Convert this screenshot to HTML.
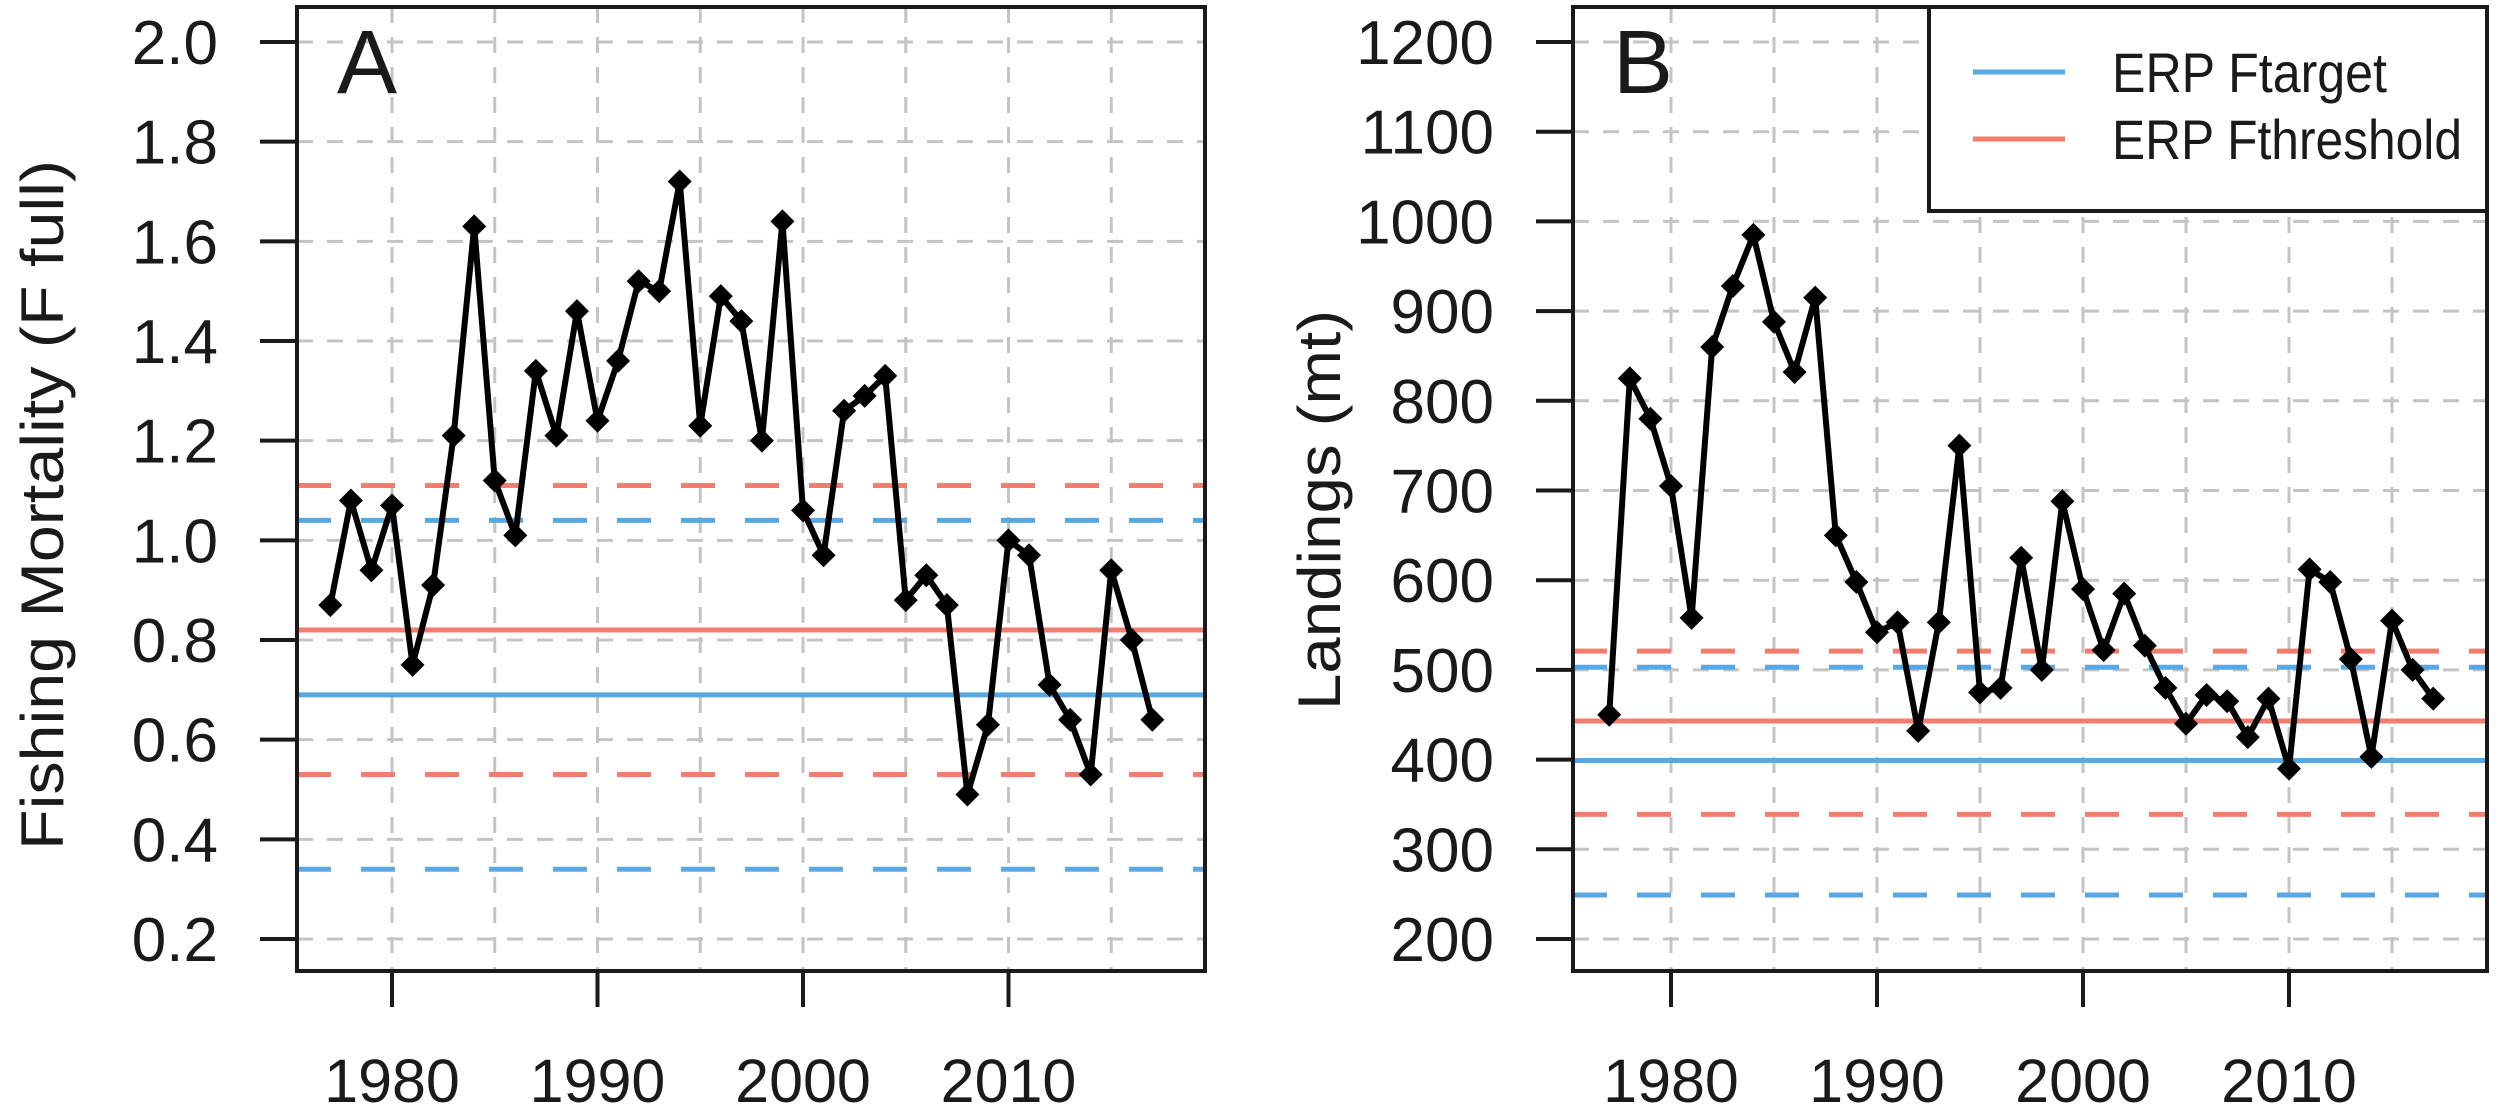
<!DOCTYPE html>
<html><head><meta charset="utf-8"><style>
html,body{margin:0;padding:0;background:#fff;}
svg{display:block;}
text{font-family:"Liberation Sans",Arial,sans-serif;fill:#1a1a1a;}
</style></head><body>
<svg id="chart" width="2500" height="1119" viewBox="0 0 2500 1119" xmlns="http://www.w3.org/2000/svg"></svg>
<script>
const years = [1977,1978,1979,1980,1981,1982,1983,1984,1985,1986,1987,1988,1989,1990,1991,1992,1993,1994,1995,1996,1997,1998,1999,2000,2001,2002,2003,2004,2005,2006,2007,2008,2009,2010,2011,2012,2013,2014,2015,2016,2017];
const fishingMortality = [0.87,1.08,0.94,1.07,0.75,0.91,1.21,1.63,1.12,1.01,1.34,1.21,1.46,1.24,1.36,1.52,1.50,1.72,1.23,1.49,1.44,1.20,1.64,1.06,0.97,1.26,1.29,1.33,0.88,0.93,0.87,0.49,0.63,1.00,0.97,0.71,0.64,0.53,0.94,0.80,0.64];
const landings = [450,825,780,705,558,860,928,985,888,832,915,650,598,542,553,432,553,750,475,480,625,500,688,590,522,585,527,480,440,472,465,425,468,390,612,598,512,403,555,500,468];
const refA = {targetSolid:0.69, thresholdSolid:0.82, targetDash:[1.04,0.34], thresholdDash:[1.11,0.53]};
const refB = {targetSolid:399, thresholdSolid:443, targetDash:[503,249], thresholdDash:[521,339]};
const xTicks = [1980,1990,2000,2010];
const xGrid = [1980,1985,1990,1995,2000,2005,2010,2015];
const yTicksA = [0.2,0.4,0.6,0.8,1.0,1.2,1.4,1.6,1.8,2.0];
const yTicksB = [200,300,400,500,600,700,800,900,1000,1100,1200];
const legendLabels = ["ERP Ftarget","ERP Fthreshold"];

const BLUE="#58a9e3", RED="#f27d6f";
const svg=document.getElementById('chart');
const NS="http://www.w3.org/2000/svg";
function mk(tag,attrs,parent){const e=document.createElementNS(NS,tag);for(const k in attrs)e.setAttribute(k,attrs[k]);(parent||svg).appendChild(e);return e;}

function panel(cfg){
  const g=mk('g',{});
  
  
  const X=y=>cfg.x1980+(y-1980)*cfg.perYear;
  const Y=v=>cfg.yTop+(cfg.yMax-v)/(cfg.yMax-cfg.yMin)*(cfg.yBot-cfg.yTop);
  xGrid.forEach(yr=>{const l=mk('line',{x1:X(yr),x2:X(yr),y1:cfg.top,y2:cfg.bottom,stroke:'#c4c4c4','stroke-width':3,'stroke-dasharray':'16 14'},g);
    });
  cfg.yTicks.forEach(v=>{const l=mk('line',{x1:cfg.left,x2:cfg.right,y1:Y(v),y2:Y(v),stroke:'#c4c4c4','stroke-width':3,'stroke-dasharray':'16 14'},g);
    });
  const r=cfg.ref;
  function hl(v,col,dash,name){const l=mk('line',{x1:cfg.left,x2:cfg.right,y1:Y(v),y2:Y(v),stroke:col,'stroke-width':5},g);
    if(dash)l.setAttribute('stroke-dasharray','34 30');
    }
  r.thresholdDash.forEach(v=>hl(v,RED,true,'threshold-bound-line'));
  r.targetDash.forEach(v=>hl(v,BLUE,true,'target-bound-line'));
  hl(r.thresholdSolid,RED,false,'threshold-line');
  hl(r.targetSolid,BLUE,false,'target-line');
  const pts=years.map((yr,i)=>X(yr)+','+Y(cfg.data[i])).join(' ');
  const pl=mk('polyline',{points:pts,fill:'none',stroke:'#000','stroke-width':6,'stroke-linejoin':'round'},g);
  
  years.forEach((yr,i)=>{const cx=X(yr),cy=Y(cfg.data[i]),s=12;
    const p=mk('polygon',{points:`${cx},${cy-s} ${cx+s},${cy} ${cx},${cy+s} ${cx-s},${cy}`,fill:'#000'},g);
    });
  const b=mk('rect',{x:cfg.left,y:cfg.top,width:cfg.right-cfg.left,height:cfg.bottom-cfg.top,fill:'none',stroke:'#1a1a1a','stroke-width':4},g);
  
  cfg.yTicks.forEach((v,i)=>{const t=mk('line',{x1:cfg.left-37,x2:cfg.left,y1:Y(v),y2:Y(v),stroke:'#1a1a1a','stroke-width':4},g);
    
    const tx=mk('text',{x:cfg.left-79,y:Y(v)+22,'text-anchor':'end','font-size':62},g);
    tx.textContent=cfg.yFmt(v);
    });
  xTicks.forEach(yr=>{const t=mk('line',{x1:X(yr),x2:X(yr),y1:cfg.bottom,y2:cfg.bottom+36,stroke:'#1a1a1a','stroke-width':4},g);
    
    const tx=mk('text',{x:X(yr),y:1102,'text-anchor':'middle','font-size':61},g);
    tx.textContent=yr;
    });
  const yt=mk('text',{x:0,y:0,'text-anchor':'middle','font-size':60,textLength:cfg.titleLen,lengthAdjust:'spacingAndGlyphs',transform:`translate(${cfg.titleX},${cfg.titleY}) rotate(-90)`,fill:'#333'},g);
  yt.textContent=cfg.title;
  
  const L=mk('text',{x:cfg.left+40,y:93,'font-size':90,fill:'#000'},g);
  L.textContent=cfg.letter;
  
  return g;
}

panel({name:'panel-a-fishing-mortality',left:297,right:1205,top:7,bottom:971,x1980:392,perYear:20.55,yTop:42,yBot:939,yMax:2.0,yMin:0.2,
  yTicks:yTicksA,yFmt:v=>v.toFixed(1),data:fishingMortality,ref:refA,title:'Fishing Mortality (F full)',titleX:63,titleY:505,titleLen:690,letter:'A'});
panel({name:'panel-b-landings',left:1573,right:2487,top:7,bottom:971,x1980:1671,perYear:20.6,yTop:42,yBot:939,yMax:1200,yMin:200,
  yTicks:yTicksB,yFmt:v=>String(v),data:landings,ref:refB,title:'Landings (mt)',titleX:1340,titleY:510,titleLen:400,letter:'B'});

const lg=mk('g',{});


const lr=mk('rect',{x:1929,y:7,width:558,height:204,fill:'#fff',stroke:'#1a1a1a','stroke-width':4},lg);

const legLens=[275,350];
[BLUE,RED].forEach((c,i)=>{const yy=[72,139][i];
  const l=mk('line',{x1:1973,x2:2065,y1:yy,y2:yy,stroke:c,'stroke-width':5},lg);
  
  const t=mk('text',{x:2112,y:yy+20,'font-size':56,textLength:legLens[i],lengthAdjust:'spacingAndGlyphs'},lg);
  t.textContent=legendLabels[i];
  });
</script>
</body></html>
